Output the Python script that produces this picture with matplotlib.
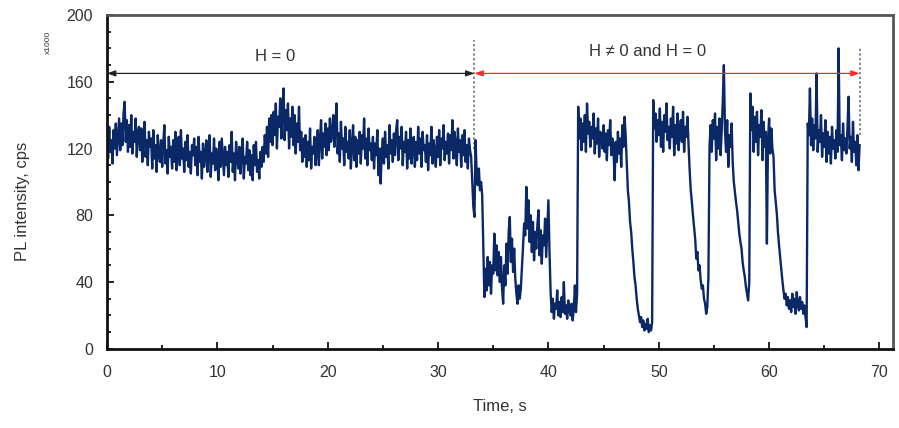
import matplotlib.pyplot as plt
import numpy as np

plt.rcParams['font.family'] = ['Liberation Sans', 'DejaVu Sans']

# PL trace, one value every 0.1 s (x1000 cps) (1 s per row)
dt = 0.1
pl = [
    128, 114, 133, 118, 125, 111, 131, 120, 135, 116,
    127, 138, 119, 135, 122, 141, 148, 124, 137, 118,
    134, 121, 140, 117, 130, 124, 138, 115, 129, 133,
    119, 132, 112, 128, 136, 115, 125, 110, 130, 121,
    126, 108, 131, 114, 122, 106, 128, 117, 112, 125,
    109, 123, 134, 111, 119, 105, 127, 115, 121, 108,
    125, 112, 130, 107, 119, 127, 110, 131, 114, 120,
    106, 124, 113, 128, 109, 118, 105, 122, 116, 126,
    110, 121, 104, 127, 112, 118, 102, 123, 109, 116,
    125, 106, 119, 128, 103, 117, 111, 126, 107, 120,
    113, 101, 124, 109, 126, 115, 104, 121, 110, 118,
    103, 122, 112, 130, 106, 117, 101, 124, 114, 108,
    121, 105, 118, 126, 102, 115, 111, 124, 107, 119,
    104, 116, 101, 122, 110, 124, 106, 113, 102, 118,
    109, 121, 112, 128, 117, 133, 115, 138, 124, 140,
    122, 142, 128, 147, 120, 139, 133, 150, 126, 144,
    156, 125, 143, 131, 147, 120, 138, 127, 145, 122,
    140, 117, 135, 124, 145, 119, 130, 112, 126, 115,
    128, 109, 124, 113, 132, 108, 121, 117, 127, 110,
    118, 131, 110, 126, 137, 114, 129, 121, 135, 116,
    132, 119, 138, 124, 128, 140, 121, 135, 147, 117,
    129, 112, 136, 120, 126, 110, 133, 118, 124, 114,
    131, 108, 122, 134, 113, 127, 109, 125, 117, 130,
    111, 128, 120, 138, 114, 126, 110, 132, 119, 123,
    113, 127, 108, 123, 116, 131, 104, 120, 99, 118,
    126, 111, 130, 115, 122, 108, 134, 117, 125, 112,
    129, 116, 131, 137, 113, 127, 120, 133, 110, 124,
    118, 130, 108, 125, 114, 132, 111, 121, 127, 109,
    124, 113, 133, 117, 126, 109, 130, 119, 122, 112,
    128, 107, 123, 116, 133, 111, 125, 118, 109, 127,
    115, 131, 110, 126, 120, 134, 113, 124, 117, 129,
    111, 128, 119, 137, 114, 130, 122, 110, 132, 118,
    125, 109, 128, 116, 131, 112, 122, 108, 126, 119,
    115, 100, 85, 79, 125, 105, 98, 108, 95, 100,
    92, 60, 31, 48, 35, 55, 38, 52, 33, 50,
    45, 69, 47, 62, 44, 58, 40, 55, 36, 27,
    50, 38, 63, 45, 70, 79, 52, 66, 46, 60,
    42, 33, 27, 38, 30, 36, 48, 61, 75, 68,
    97, 72, 89, 64, 80, 58, 76, 53, 70, 60,
    74, 83, 56, 71, 51, 68, 62, 78, 55, 72,
    89, 58, 34, 22, 30, 18, 27, 24, 35, 20,
    28, 19, 31, 22, 40, 21, 26, 18, 29, 23,
    20, 27, 17, 24, 38, 22, 33, 145, 126, 138,
    119, 135, 124, 140, 118, 147, 129, 136, 121, 133,
    126, 141, 117, 132, 123, 138, 115, 130, 127, 120,
    134, 118, 129, 113, 131, 122, 137, 116, 126, 119,
    101, 124, 112, 130, 117, 126, 109, 134, 121, 139,
    128, 112, 95, 88, 76, 70, 60, 52, 43, 38,
    30, 24, 20, 16, 19, 13, 17, 11, 15, 12,
    18, 10, 14, 11, 16, 149, 132, 141, 124, 137,
    128, 144, 121, 136, 118, 140, 130, 147, 125, 133,
    120, 138, 127, 145, 116, 134, 123, 141, 119, 131,
    137, 124, 142, 118, 133, 127, 139, 122, 107, 95,
    88, 80, 73, 66, 54, 58, 47, 50, 41, 36,
    38, 30, 27, 21, 25, 43, 121, 134, 118, 137,
    126, 141, 113, 133, 120, 138, 116, 130, 148, 170,
    131, 118, 137, 109, 128, 121, 135, 112, 100, 94,
    88, 83, 76, 69, 64, 60, 52, 47, 43, 37,
    33, 29, 40, 153, 131, 145, 118, 139, 124, 142,
    116, 134, 127, 143, 113, 136, 121, 130, 63, 125,
    138, 117, 132, 120, 115, 95, 88, 81, 70, 62,
    55, 48, 41, 35, 30, 33, 26, 31, 24, 29,
    22, 33, 25, 30, 21, 34, 27, 23, 31, 24,
    28, 21, 26, 19, 13, 135, 128, 156, 122, 138,
    119, 134, 126, 165, 118, 131, 124, 140, 115, 129,
    121, 137, 112, 130, 117, 127, 111, 133, 120, 125,
    114, 131, 118, 180, 122, 128, 113, 135, 119, 126,
    117, 132, 151, 120, 127, 112, 136, 118, 124, 110,
    128, 107, 122,
]
time = np.arange(len(pl)) * dt

# field regions (s)
t_switch = 33.3
t_end = 68.2
arrow_y = 165

fig = plt.figure(figsize=(8.99, 4.28), dpi=100)
ax = fig.add_axes([0.119, 0.185, 0.874, 0.78])

# dotted markers at region borders
ax.plot([t_switch, t_switch], [120, 185], ls=(0, (1.2, 1.2)), color='#888888', lw=1.4, zorder=1)
ax.plot([t_end, t_end], [128, 180], ls=(0, (1.2, 1.2)), color='#888888', lw=1.4, zorder=1)

ax.plot(time, pl, color='#0b2866', lw=1.7, zorder=2)

ax.annotate('', xy=(0, arrow_y), xytext=(t_switch, arrow_y),
            arrowprops=dict(arrowstyle='<|-|>,head_length=0.5,head_width=0.18',
                            color='#222222', lw=0.9, shrinkA=0, shrinkB=0))
ax.annotate('', xy=(t_switch, arrow_y), xytext=(t_end, arrow_y),
            arrowprops=dict(arrowstyle='<|-|>,head_length=0.5,head_width=0.18',
                            color='#ff2a2a', lw=0.9, shrinkA=0, shrinkB=0))
ax.text(15.2, 175, 'H = 0', ha='center', va='center', fontsize=12, color='#333333')
ax.text(49.0, 178, 'H \u2260 0 and H = 0', ha='center', va='center', fontsize=12, color='#333333')

ax.set_xlim(0, 71.2)
ax.set_ylim(0, 200)
ax.set_xticks(np.arange(0, 71, 10))
ax.set_xticks(np.arange(0, 71, 5), minor=True)
ax.set_yticks(np.arange(0, 201, 40))
ax.set_yticks(np.arange(0, 201, 10), minor=True)
ax.tick_params(which='both', direction='in', top=False, right=False,
               labelsize=11.5, labelcolor='#333333', width=1.2)
ax.tick_params(which='major', length=5)
ax.tick_params(which='minor', length=3)
ax.tick_params(axis='x', pad=12)
ax.tick_params(axis='y', pad=10)

for s in ['left', 'bottom']:
    ax.spines[s].set_linewidth(2)
    ax.spines[s].set_color('#111111')
for s in ['top', 'right']:
    ax.spines[s].set_linewidth(2)
    ax.spines[s].set_color('#555555')

ax.set_xlabel('Time, s', fontsize=12, color='#333333', labelpad=13)
fig.text(0.025, 0.53, 'PL intensity, cps', rotation=90, ha='center', va='center',
         fontsize=12, color='#333333')
fig.text(0.054, 0.90, 'x1000', rotation=90, ha='center', va='center',
         fontsize=6, color='#333333')

fig.savefig('out.png', dpi=100)
